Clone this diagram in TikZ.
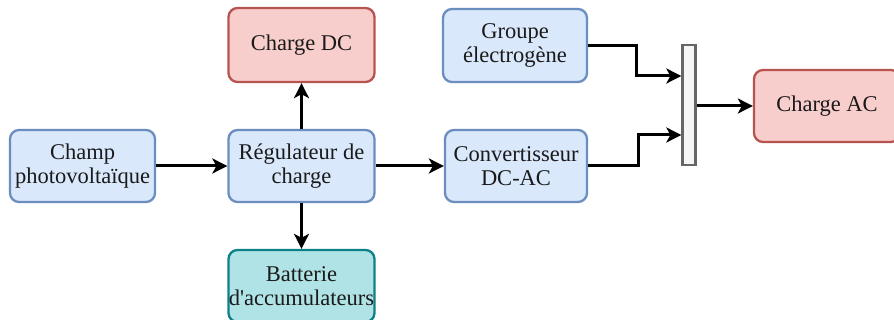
\documentclass[tikz,border=0pt]{standalone}
\usepackage{fontspec}
\setmainfont{Liberation Serif}
\usetikzlibrary{arrows.meta}
\definecolor{bfill}{HTML}{DAE8FC}
\definecolor{bdraw}{HTML}{6C8EBF}
\definecolor{rfill}{HTML}{F8CECC}
\definecolor{rdraw}{HTML}{B85450}
\definecolor{tfill}{HTML}{B0E3E6}
\definecolor{tdraw}{HTML}{0E8088}
\definecolor{gfill}{HTML}{F5F5F5}
\definecolor{gdraw}{HTML}{666666}
\definecolor{txt}{HTML}{1A1A1A}
\begin{document}
\begin{tikzpicture}[x=1pt,y=-1pt,
  box/.style={draw, line width=2.3pt, rounded corners=9pt, minimum width=145pt, minimum height=72pt,
    inner sep=0pt, align=center, text=txt, font=\fontsize{22.5}{24}\selectfont},
  blue/.style={box, fill=bfill, draw=bdraw},
  red/.style={box, fill=rfill, draw=rdraw},
  teal/.style={box, fill=tfill, draw=tdraw},
  arr/.style={line width=3pt, -{Stealth[length=15pt,width=15pt,inset=4pt]}}
]
\clip (0,0) rectangle (894,320);
\fill[white] (0,0) rectangle (894,320);
\node[blue] (champ) at (82.5,166) {Champ\\photovoltaïque};
\node[blue, minimum width=146pt] (reg) at (301.5,166) {Régulateur de\\charge};
\node[red, minimum width=146pt, minimum height=74pt] (dc) at (301.5,45) {Charge DC};
\node[teal, minimum width=146pt] (bat) at (301.5,286) {Batterie\\d\textquotesingle accumulateurs};
\node[blue, minimum width=144pt, minimum height=73pt] (grp) at (515,45.5) {Groupe\\électrogène};
\node[blue, minimum width=142pt] (conv) at (516,166) {Convertisseur\\DC-AC};
\node[draw=gdraw, fill=gfill, line width=2.3pt, minimum width=13pt, minimum height=120pt, inner sep=0pt] (bar) at (689,105) {};
\node[red, minimum width=146pt] (ac) at (827,106) {Charge AC};
\draw[arr] (champ.east) -- (reg.west);
\draw[arr] (reg.north) -- (dc.south);
\draw[arr] (reg.south) -- (bat.north);
\draw[arr] (reg.east) -- (conv.west);
\coordinate (b1) at (bar.west |- 0,76);
\coordinate (b2) at (bar.west |- 0,135);
\draw[arr] (grp.east) -- ++(48,0) |- (b1);
\draw[arr] (conv.east) -- ++(50,0) |- (b2);
\draw[arr] (bar.east |- ac.west) -- (ac.west);
\end{tikzpicture}
\end{document}
